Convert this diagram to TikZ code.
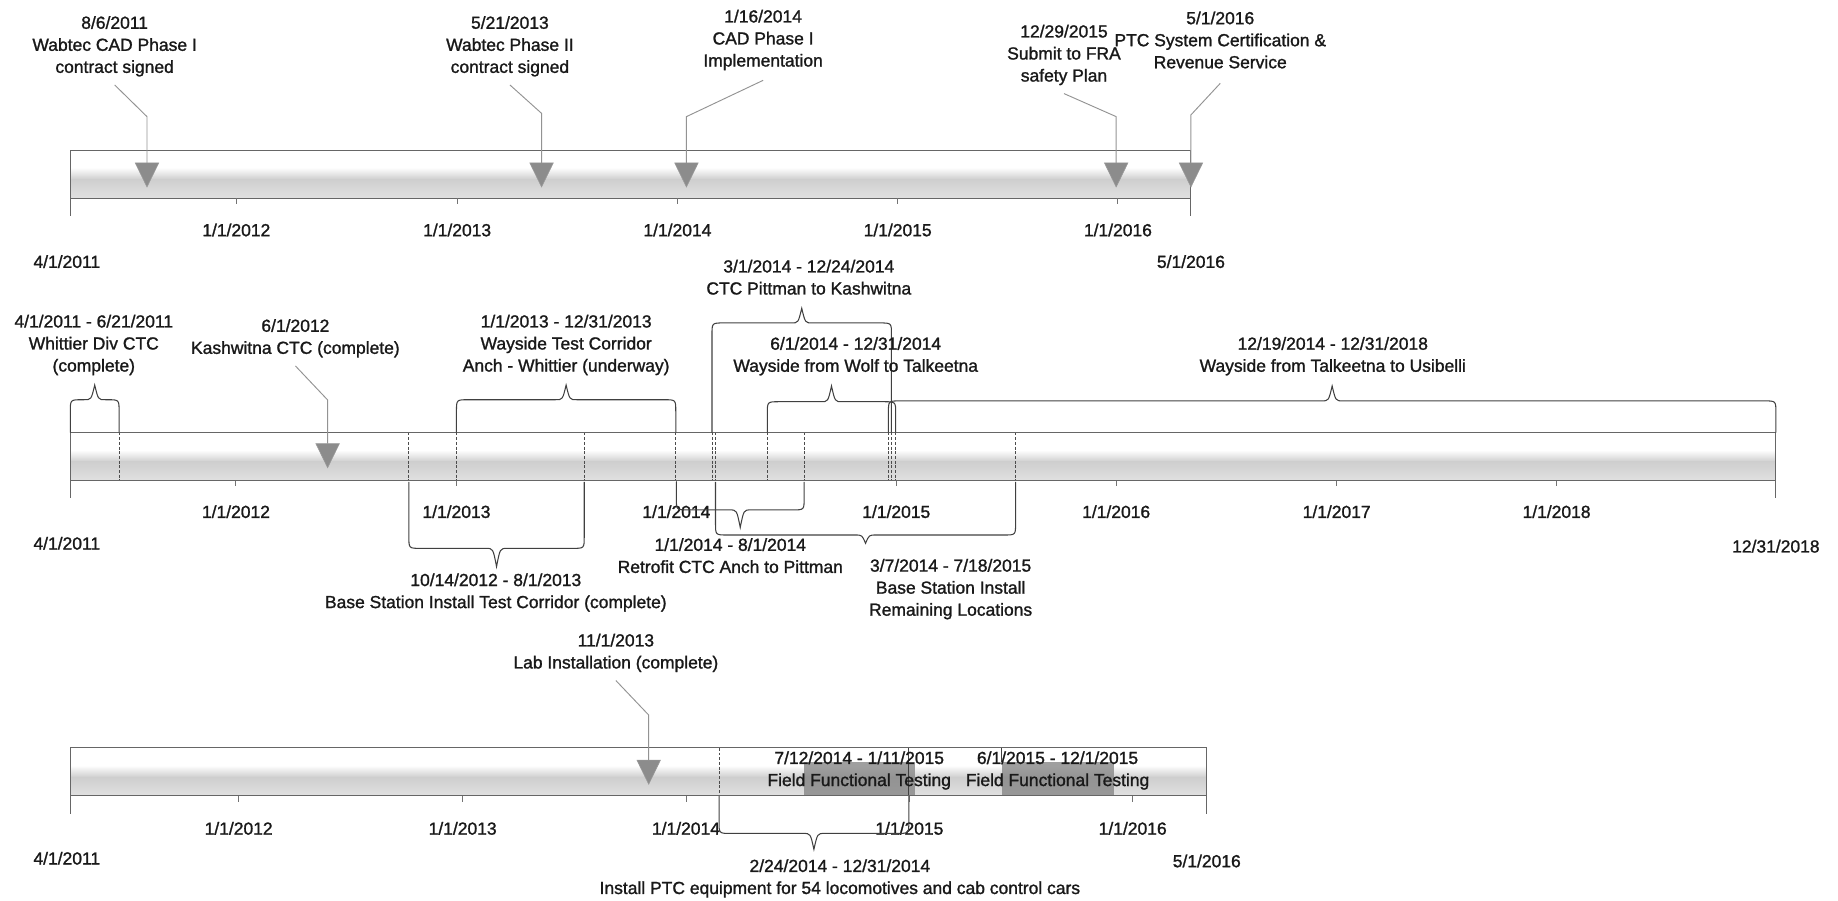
\documentclass[tikz,border=0pt]{standalone}
\usepackage{fontspec}
\setmainfont{Liberation Sans}
\newfontfamily\lblfont{Liberation Sans}[FakeBold=1.3]
\tikzset{
	lbl/.style={font=\lblfont\fontsize{14.9}{18.8}\selectfont, align=center, inner sep=0pt, text=black!90},
	bandline/.style={draw=black!60, line width=0.8pt},
	tickmark/.style={draw=black!55, line width=0.8pt},
	lead/.style={draw=gray!85, line width=0.8pt},
	curly/.style={draw=black!75, line width=0.9pt},
	divider/.style={draw=black!70, line width=0.8pt, dash pattern=on 2.5pt off 1.5pt},
	tri/.style={fill=black!45, draw=black!40, line width=0.5pt},
	testbox/.style={fill=black!50, fill opacity=0.75}
}
\begin{document}
\begin{tikzpicture}[x=1pt, y=-1pt]
		\useasboundingbox (0,0) rectangle (1568,768);
		
		\foreach \xa/\xb/\yt in {60/1016/128, 60/1515/369, 60/1029.5/638}{
			\fill[white] (\xa,\yt) rectangle (\xb,\yt+41);
			\shade[top color=white, bottom color=gray!38] (\xa,\yt+15) rectangle (\xb,\yt+25);
			\shade[top color=gray!38, bottom color=gray!24] (\xa,\yt+25) rectangle (\xb,\yt+41);
		}
		
		\fill[testbox] (685.5,650) rectangle (781,679);
		\fill[testbox] (854.6,650) rectangle (950.2,679);
		
		\foreach \x in {101.6, 348.8, 389.4, 498.4, 576.5, 607.4, 610.4, 654.6, 686, 757.9, 760.5, 764.1, 866.4}
			\draw[divider] (\x,369) -- (\x,410);
		\draw[divider] (613.4,638) -- (613.4,679);
		\draw[curly] (775.3,638) -- (775.3,679);
		\draw[curly, line width=0.6pt] (854.6,638) -- (854.6,650);
		
		\foreach \xa/\xb/\yt in {60/1016/128, 60/1515/369, 60/1029.5/638}{
			\draw[bandline] (\xa,\yt) -- (\xb,\yt) (\xa,\yt+41) -- (\xb,\yt+41);
			\draw[bandline] (\xa,\yt) -- (\xa,\yt+56) (\xb,\yt) -- (\xb,\yt+56);
		}
		
		% year ticks
		\foreach \x/\t [count=\i] in {201.6/2012, 390/2013, 577.9/2014, 765.8/2015, 953.7/2016}{
			\draw[tickmark] (\x,169) -- (\x,174);
			\node[lbl] (ya\i) at (\x,196.2) {1/1/\t};
		}
		\foreach \x/\t [count=\i] in {201.3/2012, 389.4/2013, 577/2014, 764.6/2015, 952.2/2016, 1140.3/2017, 1327.9/2018}{
			\draw[tickmark] (\x,410) -- (\x,415);
			\node[lbl] (yb\i) at (\x,436.5) {1/1/\t};
		}
		\foreach \x/\t [count=\i] in {203.6/2012, 394.7/2013, 585.2/2014, 775.8/2015, 966.3/2016}{
			\draw[tickmark] (\x,679) -- (\x,684);
			\node[lbl] (yc\i) at (\x,706.7) {1/1/\t};
		}
		
		\node[lbl] (starta) at (57,223.2) {4/1/2011};
		\node[lbl] (enda) at (1016,223.2) {5/1/2016};
		\node[lbl] (startb) at (57,463.5) {4/1/2011};
		\node[lbl] (endb) at (1515,466) {12/31/2018};
		\node[lbl] (startc) at (57,732.2) {4/1/2011};
		\node[lbl] (endc) at (1029.5,734.5) {5/1/2016};
		
		% milestones
		\foreach \n/\x/\y in {t1/125.4/139, t2/462/139, t3/585.6/139, t4/952.2/139, t5/1016/139, t6/279.5/378.5, t7/553.4/648.5}{
			\coordinate (\n) at (\x,\y);
			\filldraw[tri] (\n) ++(-10,0) -- ++(20,0) -- ++(-10,20.5) -- cycle;
		}
		
		\node[lbl] (wcad) at (97.8,39.5) {8/6/2011\\Wabtec CAD Phase I\\contract signed};
		\node[lbl] (wph) at (435,39.5) {5/21/2013\\Wabtec Phase II\\contract signed};
		\node[lbl] (cadimp) at (651,34.1) {1/16/2014\\CAD Phase I\\Implementation};
		\node[lbl] (fra) at (907.7,46.9) {12/29/2015\\Submit to FRA\\safety Plan};
		\node[lbl] (ptc) at (1041,34.1) {5/1/2016\\PTC System Certification \&\\Revenue Service};
		\node[lbl] (kash) at (252,288.6) {6/1/2012\\Kashwitna CTC (complete)};
		\node[lbl] (lab) at (525.4,557) {11/1/2013\\Lab Installation (complete)};
		
		\coordinate (b1) at (125.4,99.5);
		\coordinate (b2) at (462,96.7);
		\coordinate (b3) at (585.6,99.5);
		\coordinate (b4) at (952.2,99.5);
		\coordinate (b5) at (1016,98);
		\coordinate (b6) at (279.5,341.2);
		\coordinate (b7) at (553.4,610);
		
		\draw[lead] ([yshift=-7pt]wcad.south) -- (b1) -- (t1);
		\draw[lead] ([yshift=-7pt]wph.south) -- (b2) -- (t2);
		\draw[lead] ([yshift=-8.5pt]cadimp.south) -- (b3) -- (t3);
		\draw[lead] ([yshift=-7pt]fra.south) -- (b4) -- (t4);
		\draw[lead] ([yshift=-12.5pt]ptc.south) -- (b5) -- (t5);
		\draw[lead] ([yshift=-7pt]kash.south) -- (b6) -- (t6);
		\draw[lead] ([yshift=-7pt]lab.south) -- (b7) -- (t7);
		
		% spans
		\foreach \xa/\xb/\yb/\yh/\yp [evaluate=\xa as \xm using (\xa+\xb)/2, evaluate=\yh as \yr using \yh+10*sign(\yb-\yh)] in {60/101.6/369/341/328.5, 389.4/576.5/369/341/328.5, 654.6/764.1/369/342.7/329.3, 757.9/1515/369/342/329.3, 607.4/760.5/369/275.5/263, 348.8/498.4/411/467.8/483.4, 577/686/411/435/450, 610.4/866.4/411/456.4/463.5, 613.4/775.3/679/711/724.6}
			\draw[curly] (\xa,\yb) -- (\xa,\yr) .. controls (\xa,\yh) .. (\xa+10,\yh) -- (\xm-9,\yh) .. controls (\xm-3,\yh) .. (\xm,\yp) .. controls (\xm+3,\yh) .. (\xm+9,\yh) -- (\xb-10,\yh) .. controls (\xb,\yh) .. (\xb,\yr) -- (\xb,\yb);
		
		\node[lbl] (whit) at (80,294.3) {4/1/2011 - 6/21/2011\\Whittier Div CTC\\(complete)};
		\node[lbl] (wtc) at (483,294.3) {1/1/2013 - 12/31/2013\\Wayside Test Corridor\\Anch - Whittier (underway)};
		\node[lbl] (pitt) at (690,236.5) {3/1/2014 - 12/24/2014\\CTC Pittman to Kashwitna};
		\node[lbl] (wolf) at (730,303.9) {6/1/2014 - 12/31/2014\\Wayside from Wolf to Talkeetna};
		\node[lbl] (talk) at (1137,303.9) {12/19/2014 - 12/31/2018\\Wayside from Talkeetna to Usibelli};
		\node[lbl] (bstc) at (423,505.5) {10/14/2012 - 8/1/2013\\Base Station Install Test Corridor (complete)};
		\node[lbl] (retro) at (623,474) {1/1/2014 - 8/1/2014\\Retrofit CTC Anch to Pittman};
		\node[lbl] (bsrl) at (811,502.6) {3/7/2014 - 7/18/2015\\Base Station Install\\Remaining Locations};
		\node[lbl] (fft1) at (733,657.3) {7/12/2014 - 1/11/2015\\Field Functional Testing};
		\node[lbl] (fft2) at (902.2,657.3) {6/1/2015 - 12/1/2015\\Field Functional Testing};
		\node[lbl] (ptceq) at (716.5,749.4) {2/24/2014 - 12/31/2014\\Install PTC equipment for 54 locomotives and cab control cars};
\end{tikzpicture}
\end{document}
